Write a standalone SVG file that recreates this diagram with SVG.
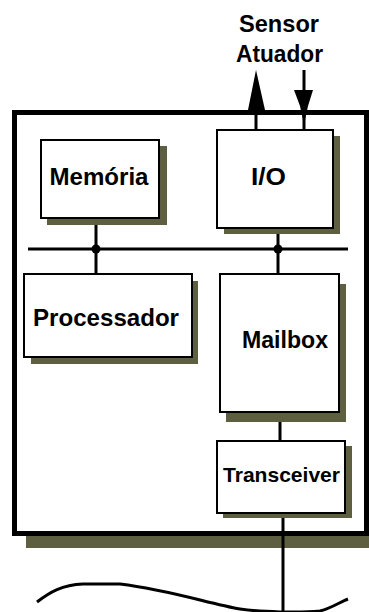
<svg xmlns="http://www.w3.org/2000/svg" width="369" height="612" viewBox="0 0 369 612">
<style>
.box{fill:#fff;stroke:#000;stroke-width:2}
.sh{fill:#5e5e40}
.t{font-family:"Liberation Sans",Arial,sans-serif;font-weight:bold;font-size:24px;fill:#000;text-anchor:middle}
.ln{stroke:#000;stroke-width:3;fill:none}
</style>
<rect width="369" height="612" fill="#fff"/>
<g id="labels">
<text class="t" x="279" y="32" textLength="80" lengthAdjust="spacingAndGlyphs">Sensor</text>
<text class="t" x="279.5" y="62" textLength="87" lengthAdjust="spacingAndGlyphs">Atuador</text>
</g>
<g id="node">
<rect class="sh" x="26" y="124" width="350" height="424"/>
<rect x="14.5" y="112.5" width="352" height="421" fill="#fff" stroke="#000" stroke-width="5"/>
</g>
<g id="connectors">
<line class="ln" x1="256" y1="85" x2="256" y2="130"/>
<polygon points="256,70 248,110 265,110" fill="#000"/>
<line class="ln" x1="304" y1="70" x2="304" y2="130"/>
<polygon points="294,90 313,90 308,106 305,120 303,120 300,106" fill="#000"/>
<line class="ln" x1="28" y1="249" x2="348" y2="249"/>
<line class="ln" x1="96" y1="218" x2="96" y2="274"/>
<line class="ln" x1="278" y1="228" x2="278" y2="274"/>
<circle cx="96" cy="249" r="4.5" fill="#000"/>
<circle cx="278" cy="249" r="4.5" fill="#000"/>
<line class="ln" x1="280" y1="412" x2="280" y2="441"/>
<line class="ln" x1="283" y1="513" x2="283" y2="612"/>
<path class="ln" d="M37,602 C50,592 62,585 83,584 L120,584 C170,590 210,604 240,609 C260,612 300,613 320,611 C332,608 340,602 348,599"/>
</g>
<g id="memoria">
<rect class="sh" x="47" y="146" width="120" height="79"/>
<rect class="box" x="41" y="140" width="118" height="78"/>
<text class="t" x="99" y="185" textLength="99" lengthAdjust="spacingAndGlyphs">Memória</text>
</g>
<g id="io">
<rect class="sh" x="224" y="136" width="116" height="98"/>
<rect class="box" x="217" y="130" width="116" height="98"/>
<text class="t" x="268.5" y="185" textLength="35" lengthAdjust="spacingAndGlyphs">I/O</text>
</g>
<g id="processador">
<rect class="sh" x="31" y="281" width="167" height="83"/>
<rect class="box" x="24" y="274" width="168" height="83"/>
<text class="t" x="106" y="326" textLength="146" lengthAdjust="spacingAndGlyphs">Processador</text>
</g>
<g id="mailbox">
<rect class="sh" x="226" y="284" width="120" height="138"/>
<rect class="box" x="220" y="274" width="119" height="138"/>
<text class="t" x="285" y="348" textLength="86" lengthAdjust="spacingAndGlyphs">Mailbox</text>
</g>
<g id="transceiver">
<rect class="sh" x="223" y="446" width="129" height="72"/>
<rect class="box" x="217" y="441" width="128" height="72"/>
<text class="t" x="281.5" y="482" style="font-size:21px" textLength="117" lengthAdjust="spacingAndGlyphs">Transceiver</text>
</g>
</svg>
